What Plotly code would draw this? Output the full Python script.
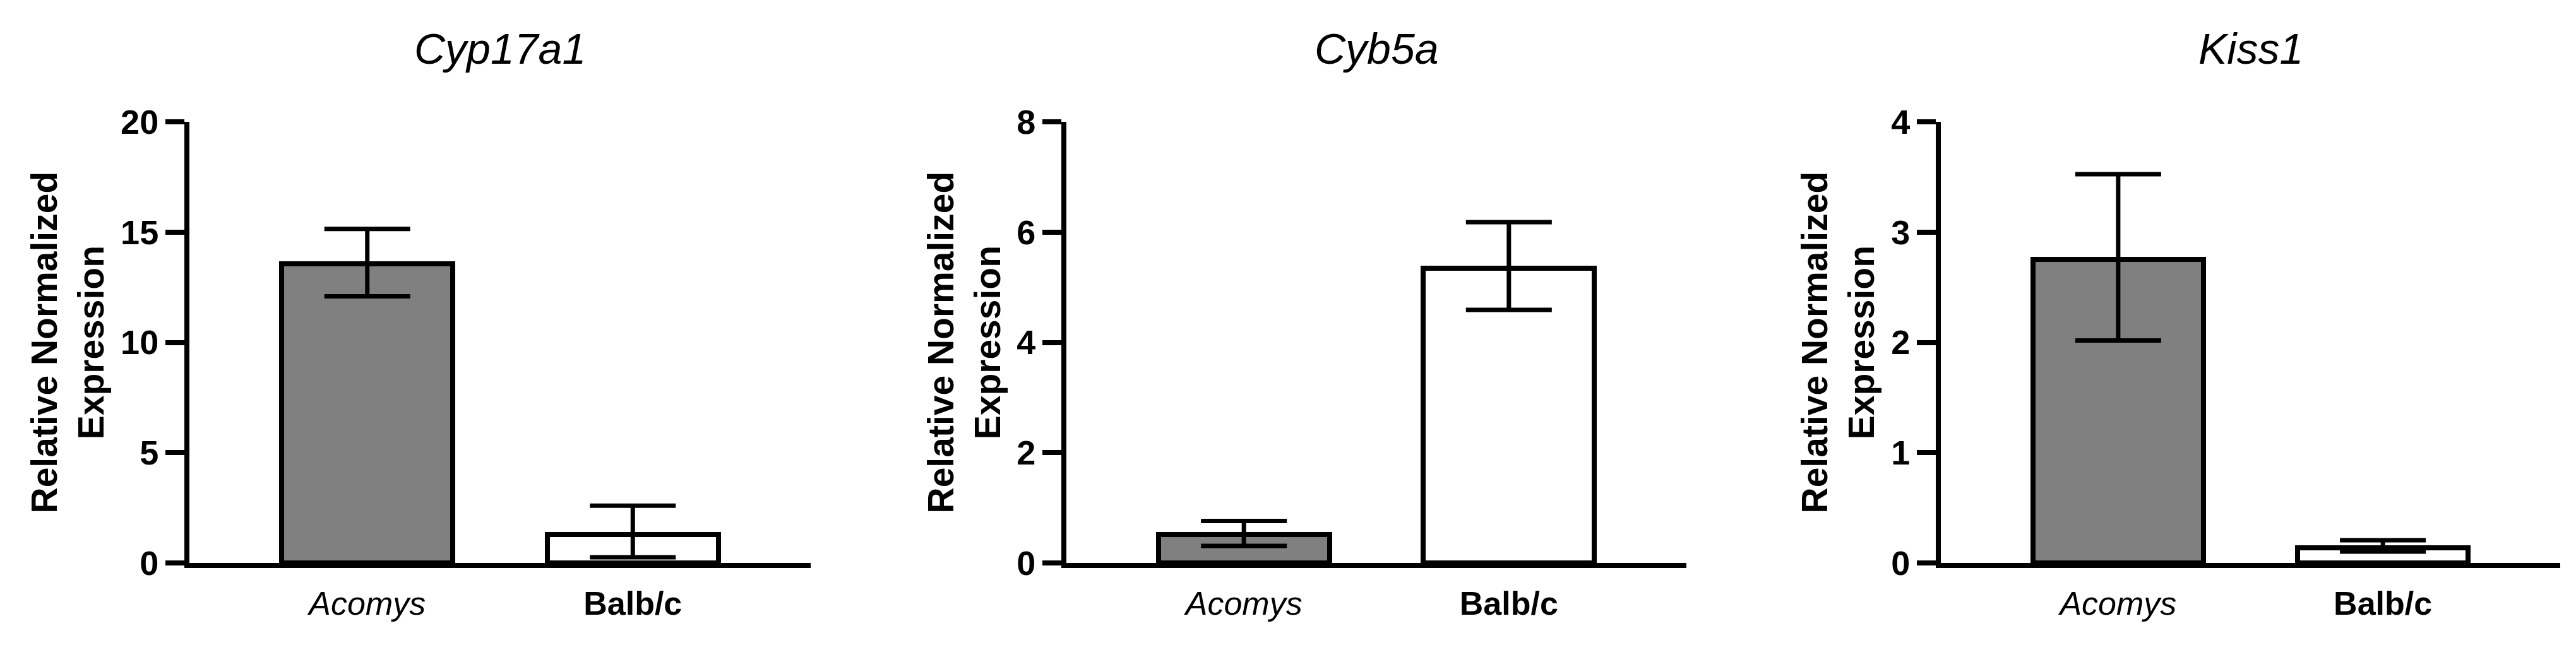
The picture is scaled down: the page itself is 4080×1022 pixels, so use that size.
import plotly.graph_objects as go

genes = ["Cyp17a1", "Cyb5a", "Kiss1"]
groups = ["Acomys", "Balb/c"]
group_labels = ["<i>Acomys</i>", "<b>Balb/c</b>"]
means = {"Cyp17a1": [13.55, 1.29], "Cyb5a": [0.515, 5.34], "Kiss1": [2.754, 0.14]}
err_plus = {"Cyp17a1": [1.59, 1.31], "Cyb5a": [0.245, 0.84], "Kiss1": [0.771, 0.066]}
err_minus = {"Cyp17a1": [1.46, 1.03], "Cyb5a": [0.205, 0.75], "Kiss1": [0.737, 0.037]}
y_max = {"Cyp17a1": 20, "Cyb5a": 8, "Kiss1": 4}
y_dtick = {"Cyp17a1": 5, "Cyb5a": 2, "Kiss1": 1}
bar_colors = ["#808080", "#ffffff"]

OFF_Y = 8
W, H = 4080, 1022 - OFF_Y


def px_x(p):
    return p / W


def px_y(p):
    return 1 - (p - OFF_Y) / H


x_domains = [(px_x(292), px_x(1276)), (px_x(1681), px_x(2663)), (px_x(3066), px_x(4047))]
y_domain = (px_y(892), px_y(193))
ytitle_x = [98, 1518, 2902]

FONT = "Arial, 'Liberation Sans', sans-serif"

fig = go.Figure()
annotations = []
for i, g in enumerate(genes):
    n = "" if i == 0 else str(i + 1)
    fig.add_trace(go.Bar(
        x=groups, y=means[g],
        xaxis="x" + n, yaxis="y" + n,
        width=0.645,
        marker=dict(color=bar_colors, line=dict(color="black", width=8)),
        error_y=dict(type="data", symmetric=False, array=err_plus[g], arrayminus=err_minus[g],
                     color="black", thickness=7, width=68),
        showlegend=False,
    ))
    xa = dict(domain=list(x_domains[i]), anchor="y" + n, range=[-0.67, 1.67],
              showline=True, linecolor="black", linewidth=8, ticks="",
              tickmode="array", tickvals=groups, ticktext=group_labels,
              tickfont=dict(family=FONT, size=52, color="black"),
              ticklabelstandoff=12, showgrid=False, zeroline=False, fixedrange=True,
              automargin=False)
    ya = dict(domain=list(y_domain), anchor="x" + n, range=[0, y_max[g]], dtick=y_dtick[g],
              showline=True, linecolor="black", linewidth=8, ticks="outside",
              ticklen=30, tickwidth=8, tickcolor="black",
              tickfont=dict(family=FONT, size=54, color="black", weight="bold"),
              showgrid=False, zeroline=False, fixedrange=True, automargin=False)
    fig.update_layout(**{"xaxis" + n: xa, "yaxis" + n: ya})
    cx = (x_domains[i][0] + x_domains[i][1]) / 2
    annotations.append(dict(text="<i>" + g + "</i>", x=cx, y=px_y(77), xref="paper", yref="paper",
                            xanchor="center", yanchor="middle", showarrow=False,
                            font=dict(family=FONT, size=68, color="black")))
    annotations.append(dict(text="<b>Relative Normalized<br>Expression</b>", x=px_x(ytitle_x[i]),
                            y=(y_domain[0] + y_domain[1]) / 2, xref="paper", yref="paper",
                            xanchor="center", yanchor="middle", textangle=-90, showarrow=False,
                            font=dict(family=FONT, size=57, color="black")))

fig.update_layout(width=W, height=H, margin=dict(l=0, r=0, t=0, b=0, autoexpand=False),
                  paper_bgcolor="white", plot_bgcolor="white",
                  annotations=annotations, bargap=0)
fig.write_html("out.html")
